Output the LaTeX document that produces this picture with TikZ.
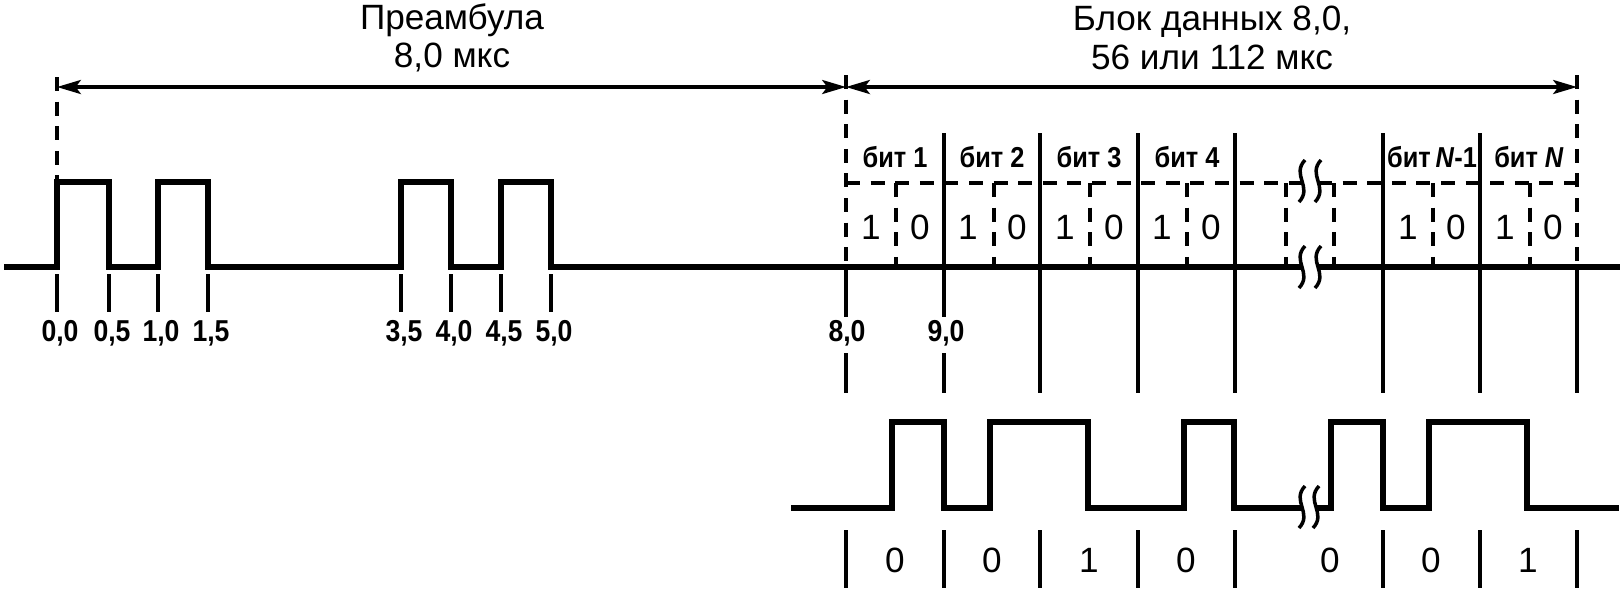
\documentclass[tikz,border=0pt]{standalone}
\usepackage{fontspec}
\setmainfont{Liberation Sans}
\newfontfamily\labelfont{Liberation Sans}[UprightFont={Liberation Sans Bold},ItalicFont={Liberation Sans Bold Italic},FakeStretch=0.88]
\usetikzlibrary{arrows.meta}

% wavy break mark centred at (#1,#2)
\newcommand{\breakmark}[2]{%
  \draw[break line] (#1+3,#2-21) .. controls (#1-11,#2-6) and (#1+11,#2+6) .. (#1-3,#2+21);}

\begin{document}
\begin{tikzpicture}[x=0.1mm,y=-0.1mm,
    signal/.style={line width=1.9pt,line join=miter},
    tick/.style={line width=0.9pt},
    grid line/.style={line width=0.9pt,dash pattern=on 4pt off 3pt},
    break line/.style={line width=1pt},
    dim/.style={line width=0.9pt,{Stealth[length=6.8pt,width=4pt,inset=1.5pt]}-{Stealth[length=6.8pt,width=4pt,inset=1.5pt]}},
    title/.style={font=\fontsize{10}{11}\selectfont,align=center},
    small label/.style={font=\labelfont\fontsize{8.6}{9}\selectfont,inner sep=0pt},
    bit label/.style={font=\labelfont\fontsize{8.2}{9}\selectfont,inner sep=0pt},
    bit value/.style={font=\fontsize{10}{11}\selectfont,inner sep=0pt}]

  \useasboundingbox (0,0) rectangle (1623,593);

  % titles
  \node[title] (pre) at (452,38) {Преамбула\\8,0 мкс};
  \node[title] (blk) at (1212,38) {Блок данных 8,0,\\56 или 112 мкс};

  % dimension arrows
  \coordinate (a0) at (57,87);
  \coordinate (a8) at (846,87);
  \coordinate (aN) at (1577,87);
  \draw[dim] (a0) -- (a8);
  \draw[dim] (a8) -- (aN);

  \draw[grid line] (57,77) -- (57,182);
  \draw[grid line] (846,75) -- (846,267);
  \draw[grid line] (1577,75) -- (1577,267);

  % preamble and line
  \draw[signal] (4,267) -- (57,267) -- (57,182) -- (109,182) -- (109,267)
    -- (158,267) -- (158,182) -- (208,182) -- (208,267)
    -- (401,267) -- (401,182) -- (451,182) -- (451,267)
    -- (501,267) -- (501,182) -- (551,182) -- (551,267) -- (1302,267);
  \draw[signal] (1318,267) -- (1620,267);

  \foreach \x/\l [count=\i] in {57/{0,0},109/{0,5},158/{1,0},208/{1,5},
                                401/{3,5},451/{4,0},501/{4,5},551/{5,0}} {
    \draw[tick] (\x,274) -- (\x,312);
    \node[small label] (tl\i) at (\x+3,333) {\l};
  }
  \node[small label] (t8) at (847,333) {8,0};
  \node[small label] (t9) at (946,333) {9,0};

  % bit cells
  \draw[grid line] (846,183) -- (1302,183);
  \draw[grid line] (1318,183) -- (1577,183);
  \foreach \x in {896,994,1090,1187,1286,1334,1433,1530}
    \draw[grid line] (\x,183) -- (\x,267);
  \foreach \x in {1040,1138,1235,1383,1480}
    \draw[tick] (\x,133) -- (\x,393);
  \draw[tick] (944,133) -- (944,317);
  \draw[tick] (846,267) -- (846,317);
  \draw[tick] (1577,267) -- (1577,393);
  \draw[tick] (846,353) -- (846,393);
  \draw[tick] (944,353) -- (944,393);

  \foreach \x/\l [count=\i] in {895/{бит 1},992/{бит 2},1089/{бит 3},1187/{бит 4},
                                1432/{бит\,\textit{N}-1},1529/{бит \textit{N}}}
    \node[bit label] (bit\i) at (\x,157) {\l};

  \foreach \x/\v [count=\i] in {871/1,920/0,968/1,1017/0,1065/1,1114/0,1162/1,1211/0,
                                1408/1,1456/0,1505/1,1553/0}
    \node[bit value] (hv\i) at (\x,227) {\v};

  \breakmark{1302}{181}
  \breakmark{1318}{181}
  \breakmark{1302}{267}
  \breakmark{1318}{267}

  % coded signal
  \draw[signal] (791,508) -- (892,508) -- (892,422) -- (944,422) -- (944,508)
    -- (990,508) -- (990,422) -- (1088,422) -- (1088,508)
    -- (1184,508) -- (1184,422) -- (1234,422) -- (1234,508) -- (1302,508);
  \draw[signal] (1316,508) -- (1331,508) -- (1331,422) -- (1383,422) -- (1383,508)
    -- (1429,508) -- (1429,422) -- (1527,422) -- (1527,508) -- (1619,508);
  \breakmark{1302}{507}
  \breakmark{1316}{507}

  \foreach \x in {846,944,1040,1138,1235,1383,1480,1577}
    \draw[tick] (\x,530) -- (\x,588);
  \foreach \x/\v [count=\i] in {895/0,992/0,1089/1,1186/0,1330/0,1431/0,1528/1}
    \node[bit value] (cv\i) at (\x,560) {\v};

\end{tikzpicture}
\end{document}
